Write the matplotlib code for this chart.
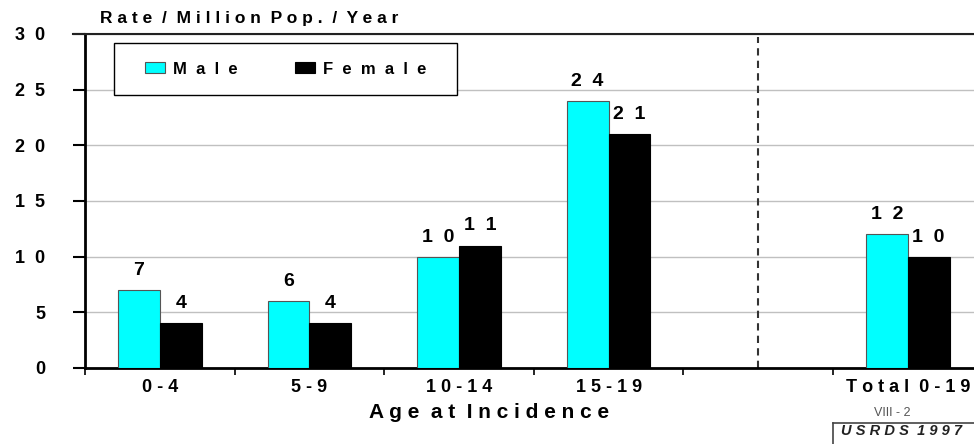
import matplotlib
matplotlib.use("Agg")
import matplotlib.pyplot as plt
from matplotlib.patches import Rectangle
import numpy as np

# Incidence rate per million population per year, by age group
categories = ["0-4", "5-9", "10-14", "15-19", "Total 0-19"]
slots = [0, 1, 2, 3, 5]          # slot 4 is left empty before the total
male = [7, 6, 10, 24, 12]
female = [4, 4, 11, 21, 10]
y_ticks = [0, 5, 10, 15, 20, 25, 30]

CYAN = "#00FFFF"
FONT = ["Liberation Sans", "DejaVu Sans"]


def spread(s, gap=" "):
    # wide letter spacing, as on the printed chart
    return (gap * 2).join(gap.join(w) for w in s.split())


plt.rcParams["font.family"] = FONT
plt.rcParams["font.weight"] = "bold"

fig = plt.figure(figsize=(9.74, 4.44), dpi=100)
ax = fig.add_axes([0.0873, 0.1712, 0.9127, 0.7523])

centers = np.array(slots) + 0.5
w = 0.28
ax.bar(centers - w / 2, male, width=w, color=CYAN, edgecolor="#555555",
       linewidth=0.8, label=spread("Male", "  "), zorder=3)
ax.bar(centers + w / 2, female, width=w, color="black", edgecolor="black",
       linewidth=0.8, label=spread("Female", "  "), zorder=3)

for c, m, f in zip(centers, male, female):
    ax.text(c - w / 2, m + 1.0, spread(str(m), "  "), ha="center",
            va="bottom", fontsize=14, fontweight="bold")
    ax.text(c + w / 2, f + 1.0, spread(str(f), "  "), ha="center",
            va="bottom", fontsize=14, fontweight="bold")

# separator before the total column
ax.axvline(4.5, color="#333333", linestyle=(0, (3.5, 2.5)), linewidth=1.5,
           ymax=0.99, zorder=2)

ax.set_xlim(0, 5.943)
ax.set_ylim(0, 30)

ax.set_yticks(y_ticks)
ax.set_yticklabels([spread(str(t), "  ") for t in y_ticks], fontsize=13,
                   fontweight="bold")
ax.tick_params(axis="y", direction="out", length=8.5, width=1.5, pad=20)
ax.grid(axis="y", color="#c0c0c0", linewidth=1, zorder=0)

ax.set_xticks(np.arange(0, 6))
ax.set_xticklabels([])
ax.set_xticks(centers, minor=True)
ax.set_xticklabels([spread(c) for c in categories], minor=True,
                   fontsize=13, fontweight="bold")
ax.tick_params(axis="x", which="major", direction="out", length=5, width=1.2)
ax.tick_params(axis="x", which="minor", length=0, pad=8)

for side in ["left", "bottom"]:
    ax.spines[side].set_linewidth(2)
ax.spines["top"].set_linewidth(1.5)
ax.spines["top"].set_color("#222222")
ax.spines["right"].set_visible(False)

# extend the top rule to the left like the tick marks
ax.plot([-0.08, 0], [30, 30], color="#222222", linewidth=1.5,
        clip_on=False)

ax.set_xlabel(spread("Age at Incidence"), fontsize=15, fontweight="bold")
ax.xaxis.set_label_coords(0.455, -0.106)

fig.text(0.103, 0.958, spread("Rate / Million Pop. / Year"), fontsize=12.5,
         fontweight="bold", va="center", ha="left")

# legend box drawn separately so the padding can be wider than tall
leg_box = (0.0326, 0.817, 0.386, 0.156)
ax.add_patch(Rectangle(leg_box[:2], leg_box[2], leg_box[3],
                       transform=ax.transAxes, facecolor="white",
                       edgecolor="black", linewidth=1, zorder=5))
leg = ax.legend(loc="center", bbox_to_anchor=leg_box, ncol=2,
                frameon=False, fontsize=12, handlelength=1.2,
                handleheight=0.6, columnspacing=3.4, borderpad=0,
                handletextpad=0.5, borderaxespad=0)
leg.set_zorder(6)

# page number and source stamp
fig.text(0.916, 0.070, "VIII - 2", fontsize=9, fontweight="normal",
         color="#555555", ha="center", va="center")
fig.text(0.926, 0.029, spread("USRDS 1997"), fontsize=10.5,
         fontweight="bold", style="italic", color="#222222", ha="center",
         va="center")
fig.add_artist(plt.Line2D([0.855, 0.855], [0.0, 0.047], color="#444444",
                          linewidth=1.2))
fig.add_artist(plt.Line2D([0.855, 1.0], [0.047, 0.047], color="#444444",
                          linewidth=1.2))

fig.savefig("out.png", dpi=100)
